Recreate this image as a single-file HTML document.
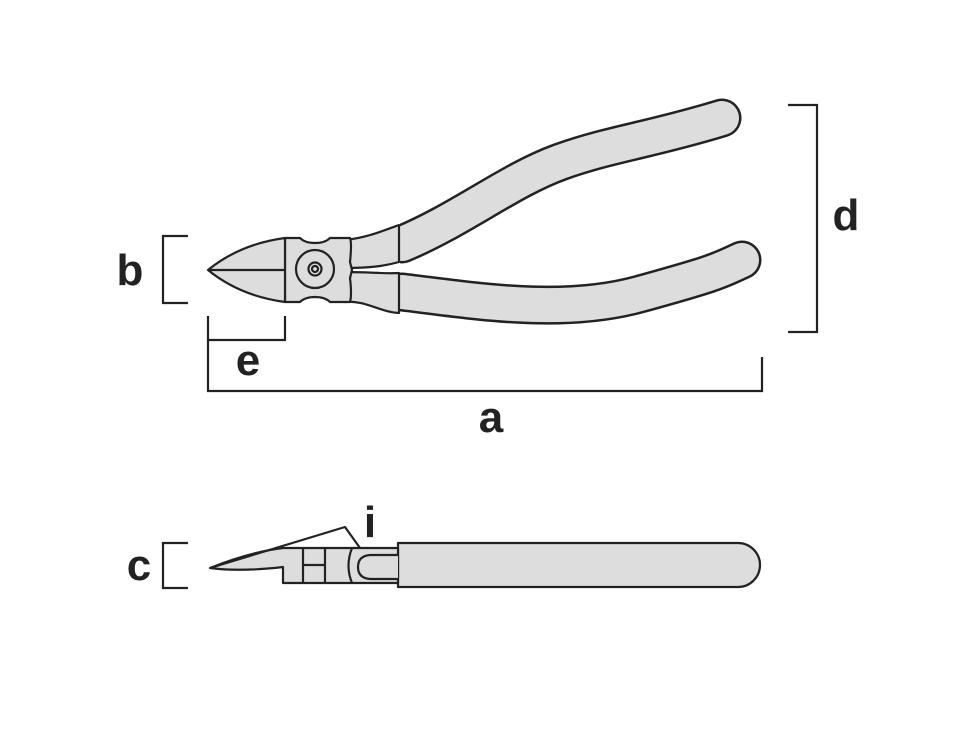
<!DOCTYPE html>
<html><head><meta charset="utf-8"><style>body{margin:0;background:#fff}svg{display:block}</style></head><body>
<svg width="960" height="750" viewBox="0 0 960 750" xmlns="http://www.w3.org/2000/svg">
<g fill="none" stroke="#222" stroke-width="2.2">
<path d="M188,236 H163 V303 H188"/>
<path d="M208,316 V340 H285 V316"/>
<path d="M208,340 V391 H762 V357"/>
<path d="M788,105 H817 V332 H788"/>
<path d="M188,543 H163 V588 H188"/>
</g>
<g font-family="Liberation Sans, sans-serif" font-size="44" font-weight="bold" fill="#222" text-anchor="middle">
<text x="130" y="285">b</text>
<text x="248" y="375">e</text>
<text x="491" y="432">a</text>
<text x="846" y="230">d</text>
<text x="139" y="580">c</text>
<text x="370" y="537">i</text>
</g>
<g fill="none" stroke-linecap="round">
<path d="M402,244 C460,220 510,180 560,162 S650,140 722,118" stroke="#222" stroke-width="39"/>
<path d="M402,244 C460,220 510,180 560,162 S650,140 722,118" stroke="#ddd" stroke-width="34"/>
<path d="M402,292 C470,300 560,316 640,294 S720,270 742,260" stroke="#222" stroke-width="39"/>
<path d="M402,292 C470,300 560,316 640,294 S720,270 742,260" stroke="#ddd" stroke-width="34"/>
</g>
<rect x="380" y="215" width="20" height="100" fill="#fff"/>
<g fill="#ddd" stroke="#222" stroke-width="2.2" stroke-linejoin="round">
<path d="M345,240 C365,238 380,232 399,225 V262 C385,266 370,268 345,268 Z"/>
<path d="M345,272 C370,272 385,274 399,273 V313 C380,312 365,300 345,302 Z"/>
<path d="M285,238 H300 Q305,243 315,243 Q325,243 330,238 H350 Q352,243 350,262 L352,270 L350,278 Q352,295 350,302 H330 Q325,297 315,297 Q305,297 300,302 H285 Z"/>
<path d="M208,270 Q240,244 285,238 V302 Q240,296 208,270 Z"/>
<line x1="208" y1="270" x2="285" y2="270"/>
<circle cx="315" cy="269" r="19"/>
<circle cx="315" cy="269" r="6.5"/>
<circle cx="315" cy="269" r="3"/>
</g>
<g fill="#ddd" stroke="#222" stroke-width="2.2" stroke-linejoin="round">
<path d="M398,543 H738 A22,22 0 0 1 738,587 H398 Z"/>
<path d="M210,568 Q250,552 283,548 H398 V583 H283 V567 Q240,572 210,568 Z"/>
<path d="M210,568 L345,527 L360,548" fill="none"/>
<path d="M303,548 V583 M325,548 V583 M303,565 H325"/>
<path d="M352,548 Q345,566 352,583" fill="none"/>
<path d="M398,555 H370 Q358,556 358,567 Q358,578 370,579 H398"/>
</g>
</svg>
</body></html>
